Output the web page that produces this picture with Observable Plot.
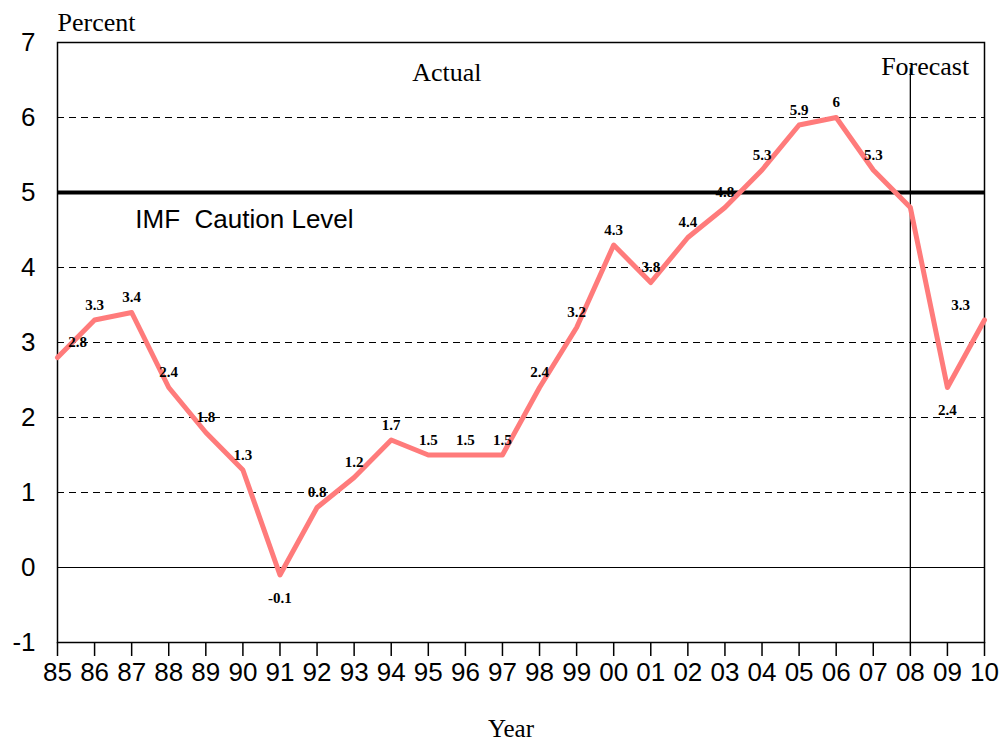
<!DOCTYPE html>
<html>
<head>
<meta charset="utf-8">
<script src="https://cdn.jsdelivr.net/npm/d3@7"></script>
<script src="https://cdn.jsdelivr.net/npm/@observablehq/plot@0.6"></script>
<style>
  html, body { margin: 0; padding: 0; background: #fff; }
  #chart svg { display: block; }
</style>
</head>
<body>
<div id="chart"></div>
<script>
const years = [1985,1986,1987,1988,1989,1990,1991,1992,1993,1994,1995,1996,1997,1998,1999,2000,2001,2002,2003,2004,2005,2006,2007,2008,2009,2010];
const values = [2.8,3.3,3.4,2.4,1.8,1.3,-0.1,0.8,1.2,1.7,1.5,1.5,1.5,2.4,3.2,4.3,3.8,4.4,4.8,5.3,5.9,6.0,5.3,4.8,2.4,3.3];
const labels = ["2.8","3.3","3.4","2.4","1.8","1.3","-0.1","0.8","1.2","1.7","1.5","1.5","1.5","2.4","3.2","4.3","3.8","4.4","4.8","5.3","5.9","6","5.3",null,"2.4","3.3"];
const yTicks = [-1,0,1,2,3,4,5,6,7];
const gridLines = [1,2,3,4,6];
const cautionLevel = 5;
const forecastStart = 2008;

const data = years.map((y, i) => ({year: y, value: values[i], label: labels[i]}));
const labelled = data.filter(d => d.label != null);
const first = years[0], last = years[years.length - 1];
const isMin = d => { const i = years.indexOf(d.year); return i > 0 && i < years.length - 1 && values[i] < values[i-1] && values[i] < values[i+1] && (values[i-1]-values[i]) > 0.6; };
const aboveMid = labelled.filter(d => d.year !== first && d.year !== last && !isMin(d));
const below = labelled.filter(d => isMin(d));
const firstL = labelled.filter(d => d.year === first);
const lastL = labelled.filter(d => d.year === last);

const serif = "'Liberation Serif', 'DejaVu Serif', serif";
const sans = "'Liberation Sans', Arial, sans-serif";
const labelStyle = {fontFamily: serif, fontSize: 15, fontWeight: "bold", fill: "#000"};
const yearFmt = d => String(d % 100).padStart(2, "0");

const chart = Plot.plot({
  width: 1003,
  height: 744,
  marginLeft: 57,
  marginRight: 19,
  marginTop: 42,
  marginBottom: 102,
  style: {fontFamily: sans, fontSize: "26px", color: "#000", background: "#fff"},
  x: {domain: [first, last], ticks: years, tickFormat: yearFmt, label: null},
  y: {domain: [-1, 7], ticks: yTicks, label: null},
  marks: [
    Plot.ruleY(gridLines, {stroke: "#000", strokeWidth: 1, strokeDasharray: "7,5"}),
    Plot.ruleY([0], {stroke: "#000", strokeWidth: 1.2}),
    Plot.ruleY([cautionLevel], {stroke: "#000", strokeWidth: 4}),
    Plot.ruleX([forecastStart], {y1: 6.65, y2: -1, stroke: "#000", strokeWidth: 1.3}),
    Plot.frame({stroke: "#000", strokeWidth: 1.5}),
    Plot.axisY({ticks: yTicks, tickSize: 0, tickPadding: 22, fontSize: 26, tickFormat: d => String(d)}),
    Plot.axisX({ticks: years, tickSize: 14, tickPadding: 6, fontSize: 26, tickFormat: yearFmt, strokeWidth: 1.5}),
    Plot.line(data, {x: "year", y: "value", stroke: "#ff7b7b", strokeWidth: 5, strokeLinejoin: "round", strokeLinecap: "round"}),
    Plot.text(aboveMid, {x: "year", y: "value", text: "label", dy: -15, ...labelStyle}),
    Plot.text(below, {x: "year", y: "value", text: "label", dy: 23, ...labelStyle}),
    Plot.text(firstL, {x: "year", y: "value", text: "label", dx: 20, dy: -15, ...labelStyle}),
    Plot.text(lastL, {x: "year", y: "value", text: "label", dx: -24, dy: -15, ...labelStyle}),
    Plot.text(["Actual"], {x: 1995.5, y: 6.6, fontFamily: serif, fontSize: 26, fill: "#000"}),
    Plot.text(["Forecast"], {x: 2008.4, y: 6.68, fontFamily: serif, fontSize: 26, fill: "#000"}),
    Plot.text(["IMF  Caution Level"], {x: 1987.1, y: 4.64, textAnchor: "start", fontFamily: sans, fontSize: 26, fill: "#000"}),
    Plot.text(["Percent"], {frameAnchor: "top-left", lineAnchor: "middle", dy: -20, textAnchor: "start", fontFamily: serif, fontSize: 26, fill: "#000"}),
    Plot.text(["Year"], {frameAnchor: "bottom", lineAnchor: "middle", dx: -10, dy: 86, fontFamily: serif, fontSize: 25, fill: "#000"})
  ]
});
document.getElementById("chart").appendChild(chart);
</script>
</body>
</html>
